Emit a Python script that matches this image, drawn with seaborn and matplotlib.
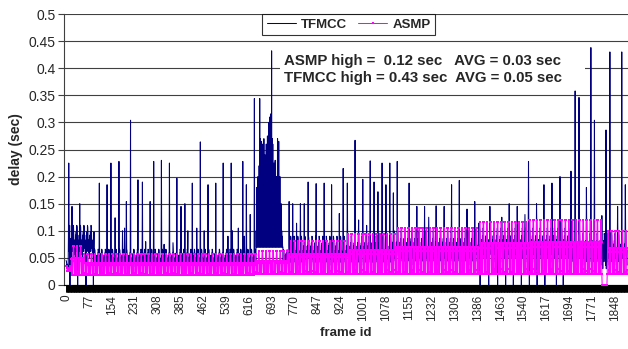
import numpy as np
import pandas as pd
import matplotlib
matplotlib.use("Agg")
import matplotlib.pyplot as plt
import seaborn as sns
from matplotlib.patches import Rectangle

# ---------------- data ----------------
n_frames = 1890
tick_values = [0, 77, 154, 231, 308, 385, 462, 539, 616, 693, 770, 847, 924,
               1001, 1078, 1155, 1232, 1309, 1386, 1463, 1540, 1617, 1694,
               1771, 1848]
tick_labels = ["0", "77", "154", "231", "308", "385", "462", "539", "616",
               "693", "770", "847", "924", "1001", "1078", "1155", "1232",
               "1309", "1386", "1463", "1540", "1617", "1694", "1771", "1848"]
y_ticks = [0, 0.05, 0.1, 0.15, 0.2, 0.25, 0.3, 0.35, 0.4, 0.45, 0.5]
y_tick_labels = ["0", "0.05", "0.1", "0.15", "0.2", "0.25", "0.3", "0.35",
                 "0.4", "0.45", "0.5"]

# TFMCC baseline segments (frame ranges with low / high delay levels)
tf_seg_start = [0, 8, 95, 640, 730, 750, 1100, 1380, 1700]
tf_seg_end = [8, 95, 640, 730, 750, 1100, 1380, 1700, 1890]
tf_seg_lo = [0.03, 0.05, 0.03, 0.07, 0.04, 0.03, 0.03, 0.035, 0.03]
tf_seg_hi = [0.045, 0.11, 0.066, 0.07, 0.065, 0.09, 0.1, 0.105, 0.095]
tf_motif = [1.0, 0.95, 0.6, 0.3, 0.55, 0.1, 0.45, 0.0, 0.7, 0.35, 0.8, 0.2]

# TFMCC congestion burst (frames 640..730, every second frame)
burst_start = 640
burst_values = [0.1, 0.18, 0.15, 0.2, 0.17, 0.22, 0.344, 0.27, 0.2, 0.265,
                0.18, 0.26, 0.22, 0.27, 0.19, 0.24, 0.2, 0.26, 0.21, 0.275,
                0.22, 0.3, 0.24, 0.31, 0.25, 0.316, 0.432, 0.27, 0.26, 0.2,
                0.225, 0.18, 0.23, 0.17, 0.2, 0.19, 0.27, 0.2, 0.265, 0.16,
                0.2, 0.14, 0.15, 0.1, 0.09, 0.07]

# TFMCC isolated spikes
tf_spike_frame = [9, 20, 46, 112, 138, 151, 165, 178, 190, 197, 203, 217,
                  242, 257, 268, 283, 295, 321, 330, 348, 360, 373, 387, 400,
                  410, 425, 440, 452, 465, 478, 504, 529, 545, 556, 560, 580,
                  595, 600, 607, 620, 634,
                  751, 763, 776, 789, 802, 815, 842, 869, 894, 920, 933, 947,
                  973, 985, 999, 1012, 1024, 1037, 1050, 1064, 1077, 1090,
                  1102, 1115, 1155, 1181, 1207, 1221, 1246, 1273, 1298, 1324,
                  1350, 1376, 1389, 1427, 1467, 1492, 1519, 1545, 1557, 1584,
                  1609, 1636, 1663, 1700, 1714, 1727, 1752, 1767, 1779, 1804,
                  1818, 1831, 1857, 1871, 1883]
tf_spike_value = [0.225, 0.145, 0.15, 0.188, 0.185, 0.225, 0.124, 0.228, 0.1,
                  0.105, 0.154, 0.304, 0.194, 0.19, 0.08, 0.154, 0.228, 0.23,
                  0.075, 0.225, 0.078, 0.197, 0.145, 0.15, 0.1, 0.188, 0.105,
                  0.264, 0.1, 0.185, 0.188, 0.225, 0.09, 0.225, 0.1, 0.105,
                  0.228, 0.09, 0.185, 0.13, 0.344,
                  0.154, 0.15, 0.114, 0.15, 0.15, 0.19, 0.187, 0.188, 0.185,
                  0.132, 0.215, 0.188, 0.267, 0.12, 0.195, 0.11, 0.229, 0.19,
                  0.172, 0.225, 0.185, 0.225, 0.17, 0.228, 0.188, 0.145,
                  0.145, 0.125, 0.146, 0.145, 0.185, 0.193, 0.14, 0.154,
                  0.114, 0.145, 0.125, 0.15, 0.145, 0.13, 0.228, 0.15, 0.185,
                  0.188, 0.2, 0.21, 0.358, 0.346, 0.18, 0.438, 0.304, 0.128,
                  0.286, 0.43, 0.145, 0.43, 0.185]

# TFMCC frames where the delay drops to zero
tf_zero_frame = [13, 39, 67, 92, 1394, 1423, 1453, 1480, 1506, 1533, 1560,
                 1586, 1612, 1651, 1674]

# ASMP segments
as_seg_start = [0, 18, 60, 640, 750, 945, 1110, 1390, 1560, 1805, 1822]
as_seg_end = [18, 60, 640, 750, 945, 1110, 1390, 1560, 1805, 1822, 1890]
as_seg_lo = [0.025, 0.018, 0.018, 0.02, 0.02, 0.02, 0.02, 0.02, 0.02, 0.0, 0.02]
as_seg_hi = [0.035, 0.072, 0.057, 0.062, 0.082, 0.095, 0.105, 0.117, 0.12, 0.0, 0.1]
as_motif = [1.0, 1.0, 1.0, 0.6, 0.0, 0.1, 0.55, 0.0, 0.6, 0.05, 0.0, 0.5]

# ---------------- assemble series ----------------
frames = np.arange(n_frames)
tfmcc = np.zeros(n_frames)
for s, e, lo, hi in zip(tf_seg_start, tf_seg_end, tf_seg_lo, tf_seg_hi):
    for f in range(s, e):
        tfmcc[f] = lo + tf_motif[f % len(tf_motif)] * (hi - lo)
for i, v in enumerate(burst_values):
    tfmcc[burst_start + 2 * i] = v
for f, v in zip(tf_spike_frame, tf_spike_value):
    tfmcc[f] = v
for f in tf_zero_frame:
    tfmcc[f] = 0.0

asmp = np.zeros(n_frames)
for s, e, lo, hi in zip(as_seg_start, as_seg_end, as_seg_lo, as_seg_hi):
    for f in range(s, e):
        asmp[f] = lo + as_motif[f % len(as_motif)] * (hi - lo)

df = pd.DataFrame({"frame": frames, "TFMCC": tfmcc, "ASMP": asmp})

# ---------------- plot ----------------
sns.set_style("white")
plt.rcParams["font.family"] = ["Liberation Sans", "DejaVu Sans"]

fig = plt.figure(figsize=(6.28, 3.49), dpi=100)
ax = fig.add_axes([64 / 628, (349 - 285) / 349, (628 - 64) / 628, (285 - 14) / 349])

ax.set_axisbelow(True)
ax.yaxis.grid(True, color="#404040", linewidth=0.8)
ax.xaxis.grid(False)

# white text-box background of the annotation
ax.add_patch(Rectangle((720, 0.363), 1027, 0.077, facecolor="white",
                       edgecolor="none", zorder=1))

sns.lineplot(data=df, x="frame", y="TFMCC", ax=ax, color="#000080",
             linewidth=0.75, label="TFMCC", estimator=None, zorder=2)
sns.lineplot(data=df, x="frame", y="ASMP", ax=ax, color="#FF00FF",
             linewidth=0.75, marker="s", markersize=1.6, markeredgewidth=0,
             label="ASMP", estimator=None, zorder=3)

ax.set_xlim(-7, 1892)
ax.set_ylim(0, 0.5)
ax.set_yticks(y_ticks)
ax.set_yticklabels(y_tick_labels, fontsize=10)
ax.set_xticks(tick_values)
ax.set_xticklabels(tick_labels, rotation=90, fontsize=8.5)
ax.set_xticks(frames, minor=True)
ax.tick_params(axis="x", which="both", bottom=True, length=5, width=0.6,
               color="black", direction="out", pad=2)
ax.tick_params(axis="y", which="major", left=True, length=4, width=0.8,
               color="#404040", direction="out", pad=2)

for side in ["top", "right"]:
    ax.spines[side].set_visible(False)
ax.spines["left"].set_color("#404040")
ax.spines["left"].set_linewidth(0.8)
ax.spines["bottom"].set_color("black")
ax.spines["bottom"].set_linewidth(0.8)

ax.set_xlabel("frame id", fontsize=9.5, fontweight="bold", labelpad=4)
ax.set_ylabel("delay (sec)", fontsize=10, fontweight="bold", labelpad=4)

leg = ax.legend(ncol=2, loc="upper center", bbox_to_anchor=(0.505, 1.0),
                frameon=True, fancybox=False, edgecolor="black",
                prop={"weight": "bold", "size": 9.5}, handlelength=2.2,
                columnspacing=0.8, borderpad=0.35, handletextpad=0.4,
                borderaxespad=0)
leg.get_frame().set_linewidth(0.8)

ax.text(734, 0.3976,
        "ASMP high =  0.12 sec   AVG = 0.03 sec\nTFMCC high = 0.43 sec  AVG = 0.05 sec",
        fontsize=10.8, fontweight="bold", ha="left", va="center",
        linespacing=1.3, zorder=4)

fig.savefig("out.png", dpi=100)
